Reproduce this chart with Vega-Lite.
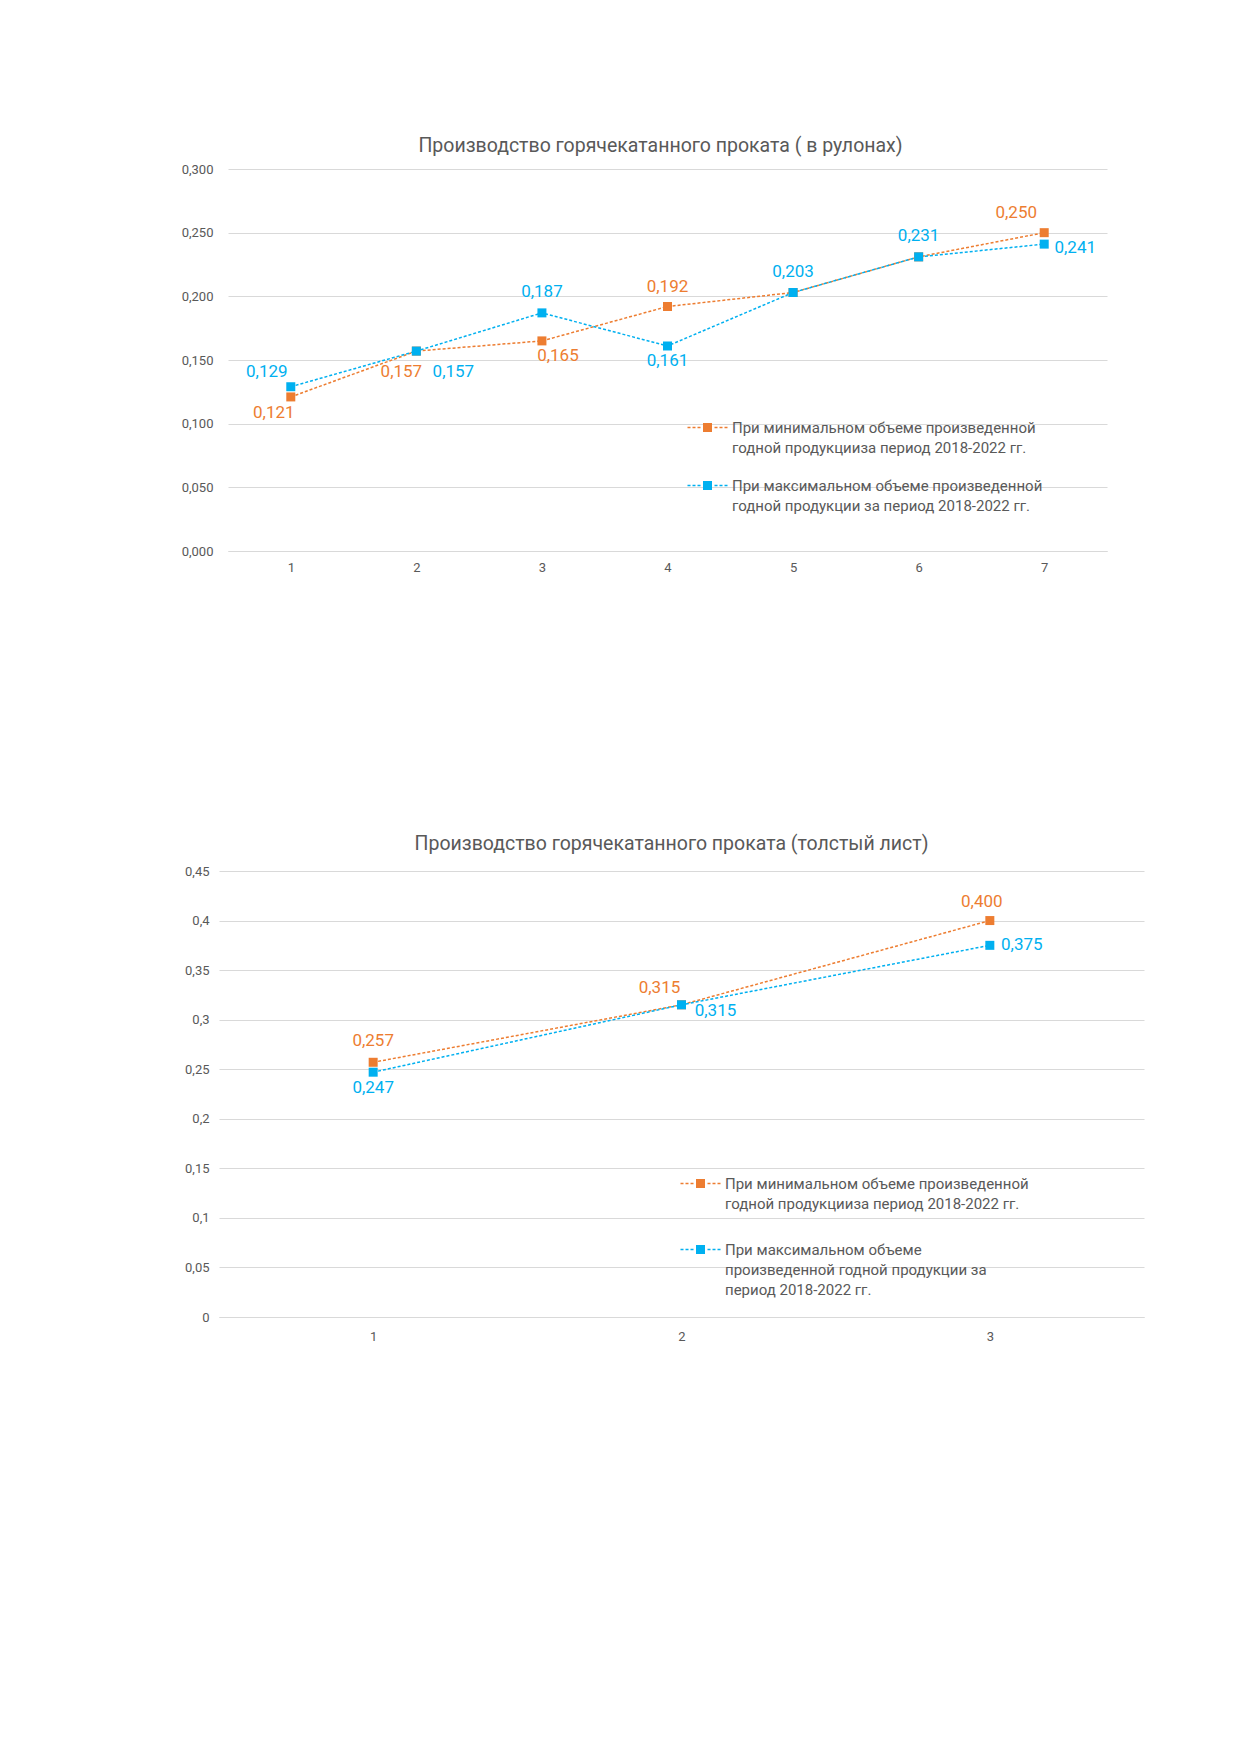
{
  "$schema": "https://vega.github.io/schema/vega-lite/v6.json",
  "background": "white",
  "padding": {"left": 181, "top": 135, "right": 20, "bottom": 20},
  "config": {
    "font": "Roboto",
    "view": {"stroke": null},
    "locale": {"number": {"decimal": ",", "thousands": " ", "grouping": [3], "currency": ["", ""]}},
    "axis": {"labelColor": "#595959", "labelFont": "Roboto", "labelFontSize": 13, "ticks": false, "domain": false, "gridColor": "#D9D9D9", "gridWidth": 1},
    "title": {"font": "Roboto", "fontSize": 19.5, "fontWeight": "normal", "color": "#595959", "offset": 7},
    "legend": {
      "orient": "none", "title": null, "padding": 0,
      "symbolType": "M-4,1.25H-3.4V1.55H-4Z M-3,1.25H-2.4V1.55H-3Z M-2,1.25H-1.4V1.55H-2Z M1.4,1.25H2V1.55H1.4Z M2.4,1.25H3V1.55H2.4Z M3.4,1.25H4V1.55H3.4Z M-0.9,0.5H0.9V2.3H-0.9Z",
      "symbolSize": 100, "symbolStrokeWidth": 0,
      "labelFont": "Roboto", "labelFontSize": 15, "labelColor": "#595959", "labelBaseline": "top", "labelOffset": 17, "labelLimit": 0, "rowPadding": 15
    }
  },
  "spacing": 259,
  "resolve": {"scale": {"color": "independent"}, "legend": {"color": "independent"}},
  "vconcat": [
    {
      "title": {"text": "Производство горячекатанного проката ( в рулонах)", "dx": -4},
      "width": 891,
      "height": 382,
      "data": {"values": [
        {"period": 1, "series": "min", "value": 0.121},
        {"period": 2, "series": "min", "value": 0.157},
        {"period": 3, "series": "min", "value": 0.165},
        {"period": 4, "series": "min", "value": 0.192},
        {"period": 5, "series": "min", "value": 0.203},
        {"period": 6, "series": "min", "value": 0.231},
        {"period": 7, "series": "min", "value": 0.250},
        {"period": 1, "series": "max", "value": 0.129},
        {"period": 2, "series": "max", "value": 0.157},
        {"period": 3, "series": "max", "value": 0.187},
        {"period": 4, "series": "max", "value": 0.161},
        {"period": 5, "series": "max", "value": 0.203},
        {"period": 6, "series": "max", "value": 0.231},
        {"period": 7, "series": "max", "value": 0.241}
      ]},
      "encoding": {
        "x": {"field": "period", "type": "ordinal", "scale": {"range": [9, 888]}, "axis": {"title": null, "labelAngle": 0, "grid": false, "domain": true, "domainColor": "#D9D9D9", "labelPadding": 10}},
        "y": {"field": "value", "type": "quantitative", "scale": {"domain": [0, 0.3]}, "axis": {"title": null, "values": [0, 0.05, 0.1, 0.15, 0.2, 0.25, 0.3], "format": ".3f", "labelPadding": 6}},
        "color": {
          "field": "series", "type": "nominal",
          "scale": {"domain": ["min", "max"], "range": ["#ED7D31", "#00B0F0"]},
          "legend": {
            "legendX": 481, "legendY": 244,
            "labelExpr": "datum.value == 'min' ? ['При минимальном объеме произведенной', 'годной продукцииза период 2018-2022 гг.'] : ['При максимальном объеме произведенной', 'годной продукции за период 2018-2022 гг.']",
            "encode": {
              "symbols": {"update": {"fill": {"signal": "datum.value == 'min' ? '#ED7D31' : '#00B0F0'"}, "fillOpacity": {"value": 1}, "opacity": {"value": 1}, "strokeWidth": {"value": 0}}},
              "labels": {"update": {"lineHeight": {"value": 20}}}
            }
          }
        }
      },
      "layer": [
        {"mark": {"type": "line", "strokeDash": [3, 2], "strokeWidth": 1.5}},
        {"mark": {"type": "point", "shape": "square", "filled": true, "size": 81, "opacity": 1}},
        {
          "transform": [{"filter": "!(datum.series == 'min' && (datum.period == 5 || datum.period == 6))"}],
          "mark": {
            "type": "text", "fontSize": 17, "align": "center", "baseline": "middle",
            "dx": {"expr": "datum.series == 'max' ? (datum.period == 1 ? -24 : datum.period == 2 ? 37 : datum.period == 7 ? 31 : 0) : (datum.period == 1 ? -17 : datum.period == 2 ? -15 : datum.period == 3 ? 16 : datum.period == 7 ? -28 : 0)"},
            "dy": {"expr": "datum.series == 'max' ? (datum.period == 1 ? -15 : datum.period == 2 ? 21 : datum.period == 4 ? 15 : datum.period == 7 ? 4 : -21) : (datum.period == 1 ? 16 : datum.period == 2 ? 21 : datum.period == 3 ? 15 : -20)"}
          },
          "encoding": {"text": {"field": "value", "type": "quantitative", "format": ".3f"}}
        }
      ]
    },
    {
      "title": {"text": "Производство горячекатанного проката (толстый лист)", "offset": 11, "dx": -10},
      "width": 925,
      "height": 446,
      "data": {"values": [
        {"period": 1, "series": "min", "value": 0.257},
        {"period": 2, "series": "min", "value": 0.315},
        {"period": 3, "series": "min", "value": 0.400},
        {"period": 1, "series": "max", "value": 0.247},
        {"period": 2, "series": "max", "value": 0.315},
        {"period": 3, "series": "max", "value": 0.375}
      ]},
      "encoding": {
        "x": {"field": "period", "type": "ordinal", "axis": {"title": null, "labelAngle": 0, "grid": false, "domain": true, "domainColor": "#D9D9D9", "labelPadding": 13}},
        "y": {"field": "value", "type": "quantitative", "scale": {"domain": [0, 0.45]}, "axis": {"title": null, "values": [0, 0.05, 0.1, 0.15, 0.2, 0.25, 0.3, 0.35, 0.4, 0.45], "format": ".2~f", "labelPadding": 10}},
        "color": {
          "field": "series", "type": "nominal",
          "scale": {"domain": ["min", "max"], "range": ["#ED7D31", "#00B0F0"]},
          "legend": {
            "legendX": 474, "legendY": 298, "rowPadding": 23,
            "labelExpr": "datum.value == 'min' ? ['При минимальном объеме произведенной', 'годной продукцииза период 2018-2022 гг.'] : ['При максимальном объеме', 'произведенной годной продукции за', 'период 2018-2022 гг.']",
            "encode": {
              "symbols": {"update": {"fill": {"signal": "datum.value == 'min' ? '#ED7D31' : '#00B0F0'"}, "fillOpacity": {"value": 1}, "opacity": {"value": 1}, "strokeWidth": {"value": 0}}},
              "labels": {"update": {"lineHeight": {"value": 20}}}
            }
          }
        }
      },
      "layer": [
        {"mark": {"type": "line", "strokeDash": [3, 2], "strokeWidth": 1.5}},
        {"mark": {"type": "point", "shape": "square", "filled": true, "size": 81, "opacity": 1}},
        {
          "mark": {
            "type": "text", "fontSize": 17, "align": "center", "baseline": "middle",
            "dx": {"expr": "datum.series == 'max' ? (datum.period == 2 ? 34 : datum.period == 3 ? 32 : 0) : (datum.period == 2 ? -22 : datum.period == 3 ? -8 : 0)"},
            "dy": {"expr": "datum.series == 'max' ? (datum.period == 1 ? 16 : datum.period == 2 ? 6 : 0) : (datum.period == 1 ? -21 : datum.period == 2 ? -17 : -19)"}
          },
          "encoding": {"text": {"field": "value", "type": "quantitative", "format": ".3f"}}
        }
      ]
    }
  ]
}
